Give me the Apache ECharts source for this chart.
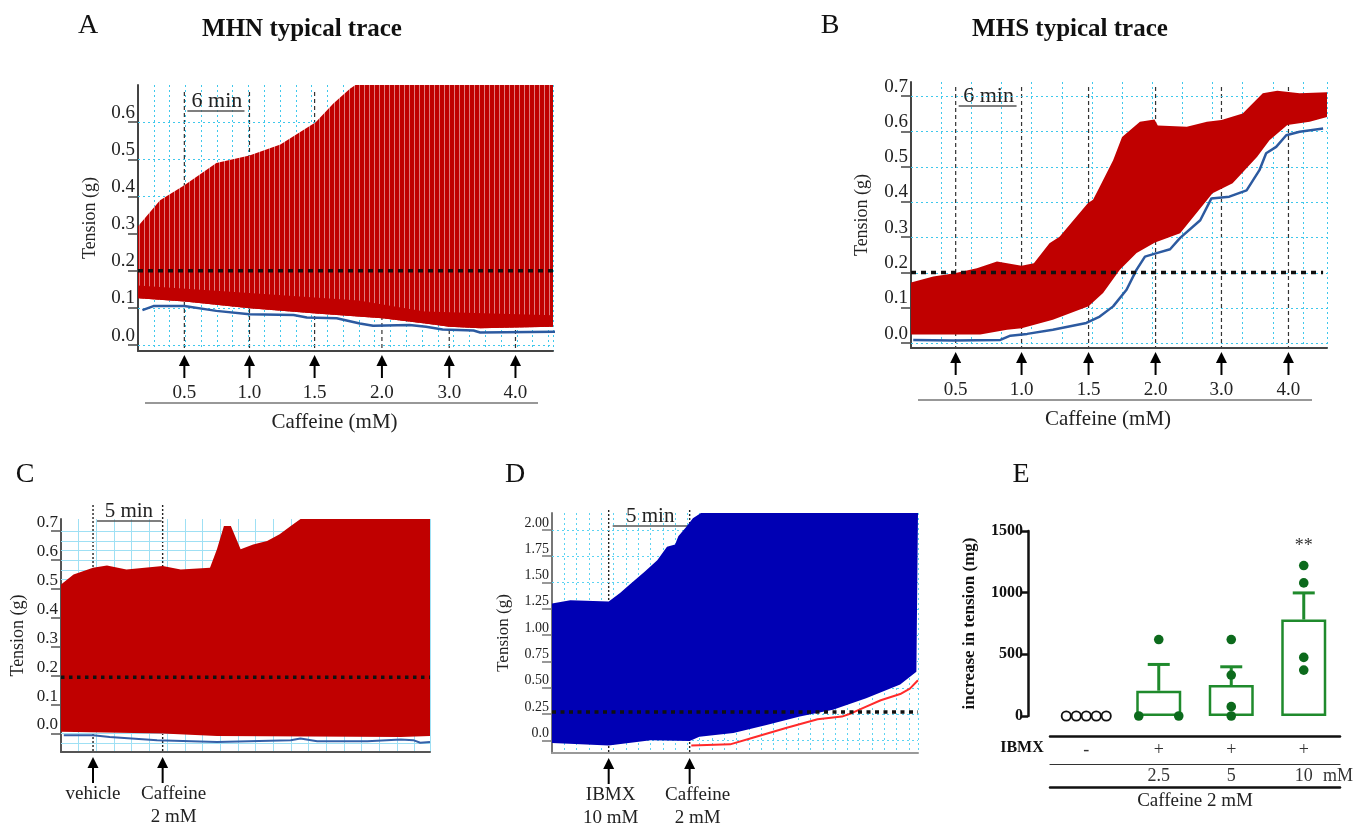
<!DOCTYPE html>
<html>
<head>
<meta charset="utf-8">
<script src="https://cdn.jsdelivr.net/npm/echarts@6/dist/echarts.min.js"></script>
<style>
  html, body { margin: 0; padding: 0; background: #fff; }
  #chart { width: 1354px; height: 824px; }
</style>
</head>
<body>
<div id="chart"></div>
<script>
// ---- panel A : MHN trace (time in min, tension in g) ----
var aUpper = [[0, 0.32], [2.0, 0.39], [4.2, 0.43], [7.1, 0.49], [10.1, 0.51], [12.9, 0.54], [16.1, 0.60], [17.7, 0.65], [19.2, 0.69], [19.7, 0.70], [37.6, 0.70]];
var aDense = [[0, 0.16], [10.1, 0.14], [20.0, 0.12], [26.0, 0.09], [37.6, 0.08]];
var aLower = [[0, 0.126], [4.2, 0.117], [10.1, 0.099], [16.1, 0.085], [22.1, 0.072], [26.0, 0.058], [28.2, 0.049], [31.0, 0.045], [37.6, 0.049]];
var aBase = [[0.4, 0.094], [1.4, 0.105], [4.2, 0.105], [7.1, 0.092], [10.1, 0.083], [14.1, 0.081], [15.3, 0.074], [18.0, 0.072], [20.1, 0.058], [21.3, 0.052], [24.6, 0.054], [26.1, 0.049], [27.6, 0.042], [30.4, 0.039], [31.0, 0.034], [37.9, 0.036]];
var aAdds = [4.2, 10.1, 16.0, 22.1, 28.2, 34.2];
var aDoses = ['0.5', '1.0', '1.5', '2.0', '3.0', '4.0'];
var aTicks = [0, 0.1, 0.2, 0.3, 0.4, 0.5, 0.6];
var aThreshold = 0.2;

// ---- panel B : MHS trace ----
var bUpper = [[0, 0.172], [2.0, 0.189], [3.9, 0.198], [5.9, 0.212], [7.7, 0.231], [9.9, 0.219], [11.0, 0.226], [12.4, 0.283], [13.3, 0.301], [15.85, 0.397], [16.3, 0.406], [16.9, 0.443], [18.1, 0.518], [18.9, 0.584], [20.5, 0.627], [21.8, 0.634], [22.1, 0.617], [24.7, 0.613], [26.5, 0.627], [27.8, 0.632], [29.7, 0.651], [31.5, 0.708], [32.8, 0.715], [34.8, 0.708], [37.25, 0.711]];
var bLower = [[0, 0.024], [3.8, 0.024], [6.2, 0.024], [8.6, 0.038], [9.9, 0.042], [12.7, 0.066], [15.9, 0.104], [17.2, 0.142], [18.7, 0.208], [20.2, 0.255], [21.85, 0.285], [24.1, 0.311], [27.0, 0.425], [28.8, 0.453], [31.0, 0.528], [32.1, 0.575], [33.7, 0.618], [35.7, 0.627], [37.25, 0.641]];
var bBase = [[0.2, 0.009], [3.8, 0.007], [8.0, 0.009], [8.9, 0.021], [10.4, 0.026], [12.7, 0.038], [15.7, 0.057], [16.9, 0.075], [18.1, 0.104], [19.3, 0.151], [20.2, 0.208], [20.95, 0.245], [22.0, 0.255], [23.2, 0.266], [24.1, 0.298], [25.9, 0.348], [26.9, 0.41], [28.5, 0.415], [30.05, 0.433], [31.2, 0.49], [31.8, 0.538], [32.7, 0.556], [33.6, 0.589], [34.8, 0.599], [36.9, 0.608]];
var bAdds = [4.0, 9.9, 15.9, 21.9, 27.8, 33.8];
var bDoses = ['0.5', '1.0', '1.5', '2.0', '3.0', '4.0'];
var bTicks = [0, 0.1, 0.2, 0.3, 0.4, 0.5, 0.6, 0.7];
var bThreshold = 0.2;

// ---- panel C : vehicle then caffeine 2 mM ----
var cUpper = [[0, 0.515], [0.9, 0.55], [2.3, 0.573], [3.3, 0.581], [4.7, 0.567], [7.3, 0.579], [8.6, 0.567], [10.7, 0.573], [11.2, 0.637], [11.7, 0.718], [12.2, 0.718], [12.9, 0.637], [13.8, 0.654], [14.8, 0.666], [15.7, 0.689], [16.5, 0.718], [17.2, 0.742], [26.5, 0.742]];
var cLower = [[0, 0.006], [7.3, 0.0], [11.2, -0.009], [24.4, -0.012], [26.5, -0.009]];
var cBase = [[0.2, -0.006], [2.3, -0.006], [3.5, -0.012], [6.9, -0.023], [11.2, -0.029], [16.5, -0.023], [17.2, -0.017], [18.4, -0.027], [22.0, -0.027], [24.4, -0.021], [25.3, -0.023], [25.8, -0.032], [26.5, -0.029]];
var cAdds = [2.3, 7.3];
var cTicks = [0, 0.1, 0.2, 0.3, 0.4, 0.5, 0.6, 0.7];
var cThreshold = 0.195;

// ---- panel D : IBMX 10 mM then caffeine 2 mM ----
var dUpper = [[0, 1.30], [1.13, 1.33], [3.5, 1.32], [4.2, 1.40], [4.8, 1.48], [5.7, 1.60], [6.5, 1.71], [7.1, 1.84], [7.6, 1.86], [7.8, 1.94], [8.3, 2.03], [8.7, 2.11], [9.2, 2.16], [22.6, 2.16]];
var dLower = [[0, -0.025], [3.5, -0.048], [6.1, 0.0], [8.5, -0.006], [9.1, 0.035], [11.2, 0.07], [13.25, 0.147], [15.3, 0.226], [17.35, 0.29], [19.4, 0.40], [21.5, 0.53], [22.5, 0.651]];
var dRise = [[8.6, -0.048], [11.0, -0.038], [12.5, 0.03], [14.5, 0.12], [16.4, 0.20], [17.9, 0.226], [18.5, 0.258], [19.4, 0.32], [20.3, 0.381], [21.5, 0.44], [22.1, 0.492], [22.6, 0.571]];
var dAdds = [3.5, 8.5];
var dTicks = [0, 0.25, 0.5, 0.75, 1, 1.25, 1.5, 1.75, 2];
var dThreshold = 0.27;

// ---- panel E : increase in tension (mg) ----
var ibmxSigns = ['-', '+', '+', '+'];
var ibmxConc = ['', '2.5', '5', '10'];
var eMean = [0, 205, 251, 782];
var eSemTop = [0, 418, 399, 998];
var ePoints = [[0, 0, 0, 0, 0], [0, 0, 620], [620, 332, 76, 0], [1220, 1079, 475, 372]];
var eSig = ['', '', '', '**'];

var SERIF = '"Liberation Serif", "Times New Roman", serif';
var RED = '#c00000';

// pixel layout of the five plot areas
var grids = [
  { left: 138, top: 85, width: 415, height: 266 },
  { left: 911, top: 82, width: 416, height: 266 },
  { left: 61, top: 519, width: 369, height: 233 },
  { left: 552, top: 513, width: 366, height: 240 },
  { left: 1050, top: 531, width: 290, height: 185 }
];

// stripe texture for the dense spikes of trace A
var stripe = document.createElement('canvas');
stripe.width = 5; stripe.height = 4;
var sctx = stripe.getContext('2d');
sctx.fillStyle = RED; sctx.fillRect(0, 0, 5, 4);
sctx.fillStyle = '#e07a7a'; sctx.fillRect(4, 0, 1, 4);

function yAx(gi, min, max, ticks, fmt, fs, gap, nameFs, lineColor) {
  return {
    type: 'value', gridIndex: gi, min: min, max: max,
    name: 'Tension (g)', nameLocation: 'middle', nameGap: gap,
    nameTextStyle: { fontFamily: SERIF, fontSize: nameFs, color: '#222' },
    axisLine: { show: true, onZero: false, lineStyle: { color: lineColor, width: 2 } },
    axisTick: { show: true, length: 10, customValues: ticks, lineStyle: { color: lineColor, width: 1.5 } },
    axisLabel: { customValues: ticks, formatter: fmt, fontFamily: SERIF, fontSize: fs, color: '#222', margin: 3, verticalAlign: 'bottom' },
    splitLine: { show: false }
  };
}
function xAx(gi, max, step, gridColor, dash, lineColor) {
  return {
    type: 'value', gridIndex: gi, min: 0, max: max, interval: step,
    axisLine: { show: true, onZero: false, lineStyle: { color: lineColor, width: 2 } },
    axisTick: { show: false }, axisLabel: { show: false },
    splitLine: { show: true, lineStyle: { color: gridColor, width: 1, type: dash } }
  };
}
// horizontal paper grid of the recorder
function hGrid(gi, values, color, dash) {
  return {
    type: 'custom', xAxisIndex: gi, yAxisIndex: gi, z: 1, silent: true,
    data: [[0, values[0]]],
    renderItem: function (params, api) {
      var cs = params.coordSys;
      return {
        type: 'group',
        children: values.map(function (v) {
          var y = Math.round(api.coord([0, v])[1]) + 0.5;
          return { type: 'line', shape: { x1: cs.x, y1: y, x2: cs.x + cs.width, y2: y },
            style: { stroke: color, lineWidth: 1, lineDash: dash } };
        })
      };
    }
  };
}
// filled envelope of the contraction trace
function band(gi, upper, lower, fill, z) {
  return {
    type: 'custom', xAxisIndex: gi, yAxisIndex: gi, z: z || 2, silent: true,
    data: [upper[0]],
    renderItem: function (params, api) {
      var pts = upper.concat(lower.slice().reverse()).map(function (p) { return api.coord(p); });
      return { type: 'polygon', shape: { points: pts }, style: { fill: fill } };
    }
  };
}
function trace(gi, pts, color, width, clip) {
  return {
    type: 'line', xAxisIndex: gi, yAxisIndex: gi, data: pts, symbol: 'none', silent: true,
    z: 4, clip: clip !== false, lineStyle: { color: color, width: width }
  };
}
function threshold(gi, t0, t1, v, width, dash) {
  return {
    type: 'line', xAxisIndex: gi, yAxisIndex: gi, data: [[t0, v], [t1, v]], symbol: 'none', silent: true,
    z: 5, lineStyle: { color: '#111', width: width, type: dash }
  };
}
function range(a, b, step) {
  var out = [];
  for (var v = a; v <= b + 1e-9; v += step) out.push(+v.toFixed(4));
  return out;
}

var f1 = function (v) { return v.toFixed(1); };
var f2 = function (v) { return v === 0 ? '0.0' : v.toFixed(2); };

// panel E helpers: swarm the equal values side by side
var dots = [];
ePoints.forEach(function (grp, gi) {
  grp.forEach(function (v) {
    var same = grp.filter(function (w) { return w === v; }).length;
    var k = dots.filter(function (d) { return d[0] === gi && d[1] === v; }).length;
    dots.push([gi, v, k, same]);
  });
});

var option = {
  animation: false,
  grid: grids.map(function (g) { return Object.assign({ outerBoundsMode: 'none', containLabel: false }, g); }),
  xAxis: [
    xAx(0, 37.6, 1.43, '#3fc8ec', [2, 3], '#444'),
    xAx(1, 37.25, 2.7, '#3fc8ec', [2, 3], '#444'),
    xAx(2, 26.5, 1.27, '#9fe0f4', 'solid', '#555'),
    xAx(3, 22.6, 0.76, '#5cd3f2', [2, 3], '#999'),
    {
      type: 'category', gridIndex: 4, data: ibmxSigns, position: 'bottom', offset: 20,
      axisLine: { show: true, onZero: false, lineStyle: { color: '#111', width: 2.5 } },
      axisTick: { show: false },
      axisLabel: { fontFamily: SERIF, fontSize: 18, color: '#333', margin: 5 }
    },
    {
      type: 'category', gridIndex: 4, data: ibmxConc, position: 'bottom', offset: 48,
      axisLine: { show: true, onZero: false, lineStyle: { color: '#333', width: 1.2 } },
      axisTick: { show: false },
      axisLabel: { fontFamily: SERIF, fontSize: 18, color: '#333', margin: 3 }
    },
    {
      type: 'category', gridIndex: 4, data: ['', '', '', ''], position: 'bottom', offset: 71,
      name: 'Caffeine 2 mM', nameLocation: 'middle', nameGap: 5,
      nameTextStyle: { fontFamily: SERIF, fontSize: 19, color: '#222' },
      axisLine: { show: true, onZero: false, lineStyle: { color: '#111', width: 2.5 } },
      axisTick: { show: false }, axisLabel: { show: false }
    }
  ],
  yAxis: [
    yAx(0, -0.016, 0.7, aTicks, f1, 19, 39, 18, '#444'),
    yAx(1, -0.014, 0.74, bTicks, f1, 19, 40, 18, '#444'),
    yAx(2, -0.064, 0.742, cTicks, f1, 17, 34, 18, '#555'),
    yAx(3, -0.12, 2.16, dTicks, f2, 14, 40, 17, '#777'),
    {
      type: 'value', gridIndex: 4, min: 0, max: 1500, interval: 500, offset: 22,
      name: 'increase in tension (mg)', nameLocation: 'middle', nameGap: 50,
      nameTextStyle: { fontFamily: SERIF, fontSize: 17, fontWeight: 'bold', color: '#111' },
      axisLine: { show: true, lineStyle: { color: '#111', width: 2.5 } },
      axisTick: { show: true, length: 7, lineStyle: { color: '#111', width: 2.5 } },
      axisLabel: { formatter: function (v) { return String(v); }, fontFamily: SERIF, fontSize: 16, fontWeight: 'bold', color: '#111', margin: 5 },
      splitLine: { show: false }
    }
  ],
  series: [
    hGrid(0, aTicks, '#3fc8ec', [2, 3]),
    band(0, aUpper, aLower, { image: stripe, repeat: 'repeat' }, 2),
    band(0, aDense, aLower, RED, 3),
    trace(0, aBase, '#2c5aa0', 2.5, false),
    threshold(0, aUpper[0][0], aUpper[aUpper.length - 1][0], aThreshold, 3.5, [5, 5]),

    hGrid(1, bTicks, '#3fc8ec', [2, 3]),
    band(1, bUpper, bLower, RED),
    trace(1, bBase, '#2c5aa0', 2.5),
    threshold(1, bUpper[0][0], bBase[bBase.length - 1][0], bThreshold, 3.5, [5, 5]),

    hGrid(2, range(-0.0333, 0.7333, 0.1 / 3), '#9fe0f4', 'solid'),
    band(2, cUpper, cLower, RED),
    trace(2, cBase, '#3560a8', 2),
    threshold(2, cUpper[0][0], cUpper[cUpper.length - 1][0], cThreshold, 3.5, [3.5, 4.5]),

    hGrid(3, dTicks, '#5cd3f2', [2, 3]),
    band(3, dUpper, dLower, '#0000b4'),
    trace(3, dRise, '#ff2a2a', 2),
    threshold(3, dUpper[0][0], dUpper[dUpper.length - 1][0], dThreshold, 3.5, [4, 4.5]),

    {
      type: 'bar', xAxisIndex: 4, yAxisIndex: 4, barWidth: 45, silent: true, z: 2,
      data: eMean.map(function (m) { return m === 0 ? { value: m, itemStyle: { borderWidth: 0 } } : m; }),
      itemStyle: { color: '#fff', borderColor: '#1f8a2c', borderWidth: 2.5 }
    },
    {
      type: 'custom', xAxisIndex: 4, yAxisIndex: 4, z: 3, silent: true,
      data: eMean.map(function (m, i) { return [i, m, eSemTop[i]]; }),
      encode: { x: 0, y: [1, 2] },
      renderItem: function (params, api) {
        var i = api.value(0);
        if (api.value(2) <= api.value(1)) return null;
        var p0 = api.coord([i, api.value(1)]);
        var p1 = api.coord([i, api.value(2)]);
        return {
          type: 'group', children: [
            { type: 'line', shape: { x1: p0[0], y1: p0[1], x2: p1[0], y2: p1[1] }, style: { stroke: '#1f8a2c', lineWidth: 3 } },
            { type: 'line', shape: { x1: p1[0] - 11, y1: p1[1], x2: p1[0] + 11, y2: p1[1] }, style: { stroke: '#1f8a2c', lineWidth: 3 } }
          ]
        };
      }
    },
    {
      type: 'custom', xAxisIndex: 4, yAxisIndex: 4, z: 4, silent: true,
      data: dots, encode: { x: 0, y: 1 },
      renderItem: function (params, api) {
        var gi = api.value(0), n = api.value(3), k = api.value(2);
        var p = api.coord([gi, api.value(1)]);
        var dx = n > 1 ? (k - (n - 1) / 2) * (40 / (n - 1)) : 0;
        var open = gi === 0;
        return {
          type: 'circle', shape: { cx: p[0] + dx, cy: p[1], r: open ? 4.6 : 4.8 },
          style: open ? { fill: '#fff', stroke: '#111', lineWidth: 1.8 } : { fill: '#0c6a1c' }
        };
      }
    },
    {
      type: 'custom', xAxisIndex: 4, yAxisIndex: 4, z: 4, silent: true,
      data: eSig.map(function (s, i) { return [i, Math.max.apply(null, ePoints[i])]; }),
      encode: { x: 0, y: 1 },
      renderItem: function (params, api) {
        var s = eSig[params.dataIndex];
        if (!s) return null;
        var p = api.coord([api.value(0), api.value(1)]);
        return { type: 'text', x: p[0], y: p[1] - 19, style: { text: s, fill: '#333', font: '18px ' + SERIF, align: 'center', verticalAlign: 'middle' } };
      }
    }
  ]
};

var chart = echarts.init(document.getElementById('chart'));
chart.setOption(option);

// ---- annotations positioned from the time axis ----
var g = [];
function px(gi, t) { return chart.convertToPixel({ gridIndex: gi }, [t, 0])[0]; }
function line(x1, y1, x2, y2, color, w, dash) {
  g.push({ type: 'line', silent: true, shape: { x1: x1, y1: y1, x2: x2, y2: y2 }, style: { stroke: color, lineWidth: w, lineDash: dash || null } });
}
function text(x, y, s, font, color) {
  g.push({ type: 'text', silent: true, x: x, y: y, style: { text: s, font: font, fill: color || '#222', align: 'center', verticalAlign: 'middle' } });
}
function arrow(x, yTip, yEnd) {
  line(x, yTip + 8, x, yEnd, '#000', 2);
  g.push({ type: 'polygon', silent: true, shape: { points: [[x, yTip], [x - 5.5, yTip + 11], [x + 5.5, yTip + 11]] }, style: { fill: '#000' } });
}
function bottomOf(gi) { return grids[gi].top + grids[gi].height; }

// A and B: dose-response protocol
[[0, aAdds, aDoses, 92], [1, bAdds, bDoses, 87]].forEach(function (p) {
  var gi = p[0], adds = p[1], doses = p[2], yTop = p[3];
  var gb = bottomOf(gi), gl = grids[gi].left, gr = gl + grids[gi].width;
  adds.forEach(function (t, i) {
    var x = px(gi, t);
    line(x, yTop, x, gb, '#333', 1.2, [4, 3]);
    arrow(x, gb + 4, gb + 27);
    text(x, gb + 42, doses[i], '19px ' + SERIF);
  });
  line(gl + 7, gb + 52, gr - 15, gb + 52, '#333', 1.2);
  text((gl + gr) / 2 - 11, gb + 71, 'Caffeine (mM)', '21px ' + SERIF);
  var x0 = px(gi, adds[0]), x1 = px(gi, adds[1]);
  line(x0 + 3, yTop + 19, x1 - 5, yTop + 19, '#555', 1.5);
  text((x0 + x1) / 2, yTop + 9, '6 min', '22px ' + SERIF);
});

// C and D: single additions
[[2, cAdds, [['vehicle'], ['Caffeine', '2 mM']], 505, [0, 11]], [3, dAdds, [['IBMX', '10 mM'], ['Caffeine', '2 mM']], 510, [2, 8]]].forEach(function (p) {
  var gi = p[0], adds = p[1], labels = p[2], yTop = p[3], shift = p[4];
  var gb = bottomOf(gi);
  adds.forEach(function (t, i) {
    var x = px(gi, t);
    line(x, yTop, x, gb, '#222', 1.4, [2, 2]);
    arrow(x, gb + 5, gb + 31);
    labels[i].forEach(function (s, j) { text(x + shift[i], gb + 42 + j * 23, s, '19px ' + SERIF); });
  });
  var x0 = px(gi, adds[0]), x1 = px(gi, adds[1]);
  line(x0 + 4, yTop + 16, x1 - 1, yTop + 16, '#555', 1.5);
  text((x0 + x1) / 2 + 1, yTop + 6, '5 min', '21px ' + SERIF);
});

// panel letters and titles
text(88, 26, 'A', '28px ' + SERIF, '#111');
text(830, 26, 'B', '28px ' + SERIF, '#111');
text(25, 475, 'C', '28px ' + SERIF, '#111');
text(515, 475, 'D', '28px ' + SERIF, '#111');
text(1021, 475, 'E', '28px ' + SERIF, '#111');
text(302, 30, 'MHN typical trace', 'bold 25px ' + SERIF, '#111');
text(1070, 30, 'MHS typical trace', 'bold 25px ' + SERIF, '#111');

// panel E row captions
text(1022, 748, 'IBMX', 'bold 16px ' + SERIF, '#111');
text(1338, 776, 'mM', '18px ' + SERIF, '#333');

chart.setOption({ graphic: { elements: g } });
</script>
</body>
</html>
